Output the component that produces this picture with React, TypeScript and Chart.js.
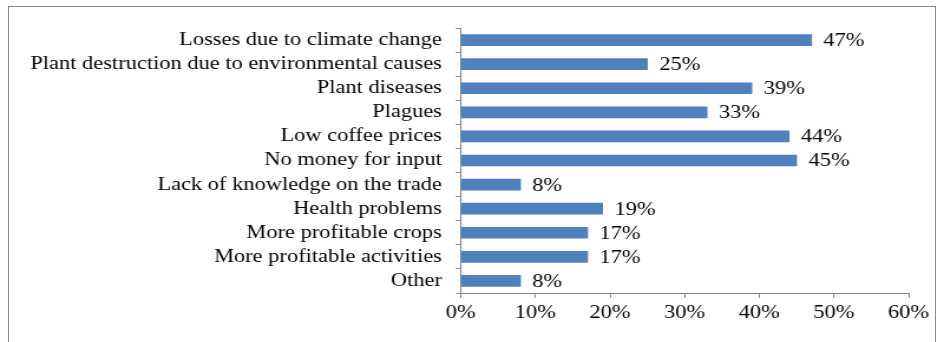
import React, { useEffect, useRef } from "react";
import { Chart, registerables } from "chart.js";

Chart.register(...registerables);

const categories = [
  "Losses due to climate change",
  "Plant destruction due to environmental causes",
  "Plant diseases",
  "Plagues",
  "Low coffee prices",
  "No money for input",
  "Lack of knowledge on the trade",
  "Health problems",
  "More profitable crops",
  "More profitable activities",
  "Other",
];
const values = [47, 25, 39, 33, 44, 45, 8, 19, 17, 17, 8];

const FONT = "'Liberation Serif', 'Times New Roman', serif";
const AXIS = "#868686";
const STRETCH = 1.18;
const W = 800;

const labelPlugin = {
  id: "barLabels",
  afterDatasetsDraw(chart: any) {
    const ctx = chart.ctx;
    const meta = chart.getDatasetMeta(0);
    ctx.save();
    ctx.font = `19px ${FONT}`;
    ctx.fillStyle = "#000";
    ctx.textAlign = "left";
    ctx.textBaseline = "middle";
    meta.data.forEach((bar: any, i: number) => {
      ctx.fillText(values[i] + "%", bar.x + 10, bar.y + 1);
    });
    ctx.restore();
  },
};

export default function App() {
  const ref = useRef<HTMLCanvasElement>(null);
  useEffect(() => {
    const chart = new Chart(ref.current!, {
      type: "bar",
      data: {
        labels: categories,
        datasets: [
          {
            data: values,
            backgroundColor: "#4F81BD",
            borderWidth: 0,
            barThickness: 11,
          },
        ],
      },
      options: {
        indexAxis: "y",
        animation: false,
        responsive: false,
        devicePixelRatio: 1,
        layout: { padding: { top: 28, right: 30, left: 0, bottom: 0 } },
        plugins: { legend: { display: false }, tooltip: { enabled: false } },
        scales: {
          x: {
            min: 0,
            max: 60,
            ticks: {
              stepSize: 10,
              callback: (v: any) => v + "%",
              color: "#000",
              font: { family: FONT, size: 19 },
              padding: 4,
              maxRotation: 0,
            },
            grid: {
              display: true,
              drawOnChartArea: false,
              drawTicks: true,
              tickLength: 5,
              color: AXIS,
            },
            border: { color: AXIS, width: 1 },
            afterFit: (s: any) => {
              s.height = 49;
            },
          },
          y: {
            ticks: {
              color: "#000",
              font: { family: FONT, size: 19 },
              padding: 12,
              autoSkip: false,
            },
            grid: {
              display: true,
              drawOnChartArea: false,
              drawTicks: true,
              tickLength: 4,
              color: AXIS,
              offset: true,
            },
            border: { color: AXIS, width: 1 },
            afterFit: (s: any) => {
              s.width = 390.5;
            },
          },
        },
      },
      plugins: [labelPlugin],
    });
    return () => chart.destroy();
  }, []);
  return (
    <div style={{ position: "fixed", left: 0, top: 0, width: 944, height: 342, background: "#fff", overflow: "hidden" }}>
      <div
        style={{
          position: "absolute",
          left: 0,
          top: 0,
          width: W,
          height: 342,
          transform: `scaleX(${STRETCH})`,
          transformOrigin: "0 0",
        }}
      >
        <canvas ref={ref} width={W} height={342} style={{ display: "block" }} />
      </div>
      <div
        style={{
          position: "absolute",
          left: 8,
          top: 6,
          width: 928,
          height: 350,
          border: "1.5px solid #8a8a8a",
          boxSizing: "border-box",
        }}
      />
    </div>
  );
}
